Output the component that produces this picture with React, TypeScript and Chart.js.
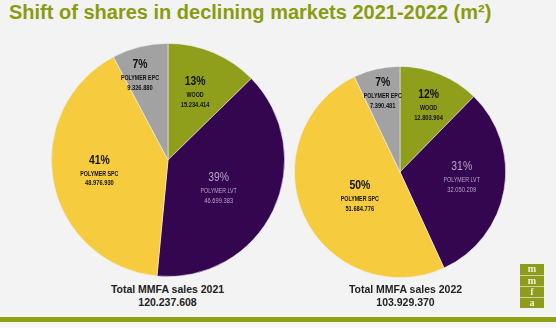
import React, { useEffect, useRef } from "react";
import { Chart, registerables } from "chart.js";

Chart.register(...registerables);

const categories = ["WOOD", "POLYMER LVT", "POLYMER SPC", "POLYMER EPC"];
const values2021 = [15234414, 46699383, 48976930, 9326880];
const values2022 = [12803904, 32050209, 51684776, 7390481];
const pct2021 = ["13%", "39%", "41%", "7%"];
const pct2022 = ["12%", "31%", "50%", "7%"];
const numLabels2021 = ["15.234.414", "46.699.383", "48.976.930", "9.326.880"];
const numLabels2022 = ["12.803.904", "32.050.209", "51.684.776", "7.390.481"];
const totals = ["120.237.608", "103.929.370"];
const years = ["2021", "2022"];

const COLORS = ["#8f9f1b", "#33064f", "#f6cc3e", "#a2a2a2"];
const TEXT_COLORS = ["#111111", "#b9a5c9", "#111111", "#111111"];
const SANS = '"Liberation Sans", Arial, sans-serif';

type LabelCfg = { radial: number[]; offset: number[]; pct: string[]; nums: string[] };

function narrowText(ctx: CanvasRenderingContext2D, text: string, x: number, y: number, squeeze: number) {
  const w = ctx.measureText(text).width;
  ctx.fillText(text, x, y, w * squeeze);
}

const labelPlugin = {
  id: "sliceLabels",
  afterDatasetsDraw(chart: any, _args: any, opts: LabelCfg) {
    const ctx = chart.ctx;
    const meta = chart.getDatasetMeta(0);
    ctx.save();
    ctx.textAlign = "center";
    ctx.textBaseline = "middle";
    meta.data.forEach((arc: any, i: number) => {
      const p = arc.getProps(["x", "y", "startAngle", "endAngle", "outerRadius"], true);
      const mid = (p.startAngle + p.endAngle) / 2 + (opts.offset[i] * Math.PI) / 180;
      const r = p.outerRadius * opts.radial[i];
      const cx = p.x + Math.cos(mid) * r;
      const cy = p.y + Math.sin(mid) * r;
      const weight = i === 1 ? "normal" : "bold";
      ctx.fillStyle = TEXT_COLORS[i];
      ctx.font = `${weight} 13px ${SANS}`;
      narrowText(ctx, opts.pct[i], cx, cy - 13.7, 0.8);
      ctx.font = `${weight} 6.8px ${SANS}`;
      narrowText(ctx, categories[i], cx, cy, 0.78);
      ctx.font = `${weight} 7.2px ${SANS}`;
      narrowText(ctx, opts.nums[i], cx, cy + 9.8, 0.8);
    });
    ctx.restore();
  },
};

function Pie(props: {
  values: number[];
  size: number;
  left: number;
  top: number;
  labels: LabelCfg;
}) {
  const ref = useRef<HTMLCanvasElement>(null);
  useEffect(() => {
    if (!ref.current) return;
    const chart = new Chart(ref.current, {
      type: "pie",
      data: {
        labels: categories,
        datasets: [
          {
            data: props.values,
            backgroundColor: COLORS,
            borderColor: "rgba(240,240,240,0.7)",
            borderWidth: 0.8,
          },
        ],
      },
      options: {
        animation: false,
        responsive: false,
        layout: { padding: 3 },
        plugins: {
          legend: { display: false },
          tooltip: { enabled: false },
          sliceLabels: props.labels,
        } as any,
      },
      plugins: [labelPlugin],
    });
    return () => chart.destroy();
  }, []);
  return (
    <canvas
      ref={ref}
      width={props.size}
      height={props.size}
      style={{ position: "absolute", left: props.left, top: props.top, width: props.size, height: props.size }}
    />
  );
}

const totalStyle = (center: number): React.CSSProperties => ({
  position: "absolute",
  left: center - 100,
  width: 200,
  top: 283,
  textAlign: "center",
  font: "bold 10.5px 'Liberation Sans', Arial, sans-serif",
  lineHeight: "13px",
  color: "#222222",
});

const logoLetters = ["m", "m", "f", "a"];

export default function App() {
  return (
    <div
      style={{
        position: "fixed",
        left: 0,
        top: 0,
        width: 556,
        height: 328,
        background: "#f3f3f3",
        overflow: "hidden",
      }}
    >
      <div
        style={{
          position: "absolute",
          left: 9,
          top: 1.5,
          font: "bold 20px 'Liberation Sans', Arial, sans-serif",
          lineHeight: "20px",
          color: "#8b9b10",
          whiteSpace: "nowrap",
        }}
      >
        Shift of shares in declining markets 2021-2022 (m²)
      </div>
      <Pie
        values={values2021}
        size={240}
        left={48}
        top={40}
        labels={{ radial: [0.6, 0.51, 0.6, 0.74], offset: [0, 6, 0, -5], pct: pct2021, nums: numLabels2021 }}
      />
      <Pie
        values={values2022}
        size={218}
        left={291}
        top={63}
        labels={{ radial: [0.66, 0.59, 0.46, 0.74], offset: [2, -2, -9, 0], pct: pct2022, nums: numLabels2022 }}
      />
      <div style={totalStyle(167.5)}>
        Total MMFA sales {years[0]}
        <br />
        {totals[0]}
      </div>
      <div style={totalStyle(405.5)}>
        Total MMFA sales {years[1]}
        <br />
        {totals[1]}
      </div>
      <div
        style={{
          position: "absolute",
          left: 520,
          top: 264,
          width: 24,
          height: 44,
          background: "#8d9c1c",
        }}
      >
        {logoLetters.map((l, i) => (
          <div
            key={i}
            style={{
              height: 11,
              boxSizing: "border-box",
              borderTop: i === 0 ? "none" : "1px solid #cdd59a",
              textAlign: "center",
              color: "#f4f2dc",
              font: "bold 10px 'Liberation Serif', 'DejaVu Serif', serif",
              lineHeight: "10px",
            }}
          >
            {l}
          </div>
        ))}
      </div>
      <div
        style={{
          position: "absolute",
          left: 0,
          top: 317,
          width: 556,
          height: 5,
          background: "#8fa012",
        }}
      />
      <div
        style={{
          position: "absolute",
          left: 0,
          top: 322,
          width: 556,
          height: 6,
          background: "#f7f7f7",
        }}
      />
    </div>
  );
}
